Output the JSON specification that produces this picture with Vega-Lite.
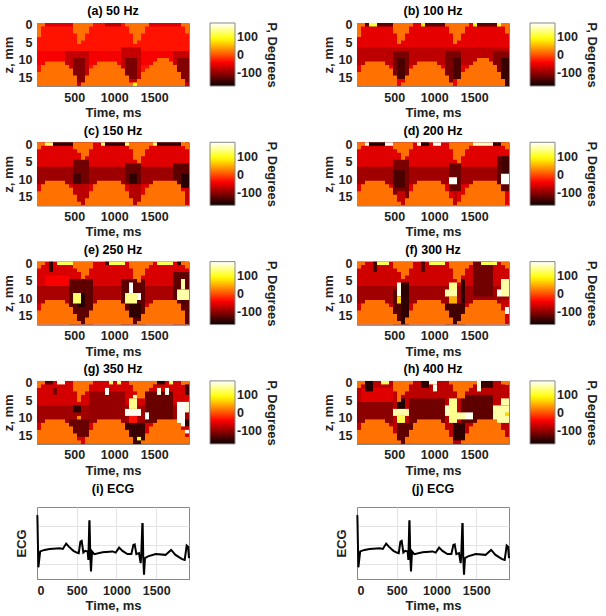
{"$schema":"https://vega.github.io/schema/vega-lite/v6.json","background":"white","padding":{"left":1,"top":4,"right":0,"bottom":0},
"datasets":{"ecg":[{"t":0,"v":1.55},{"t":5,"v":1.5},{"t":17,"v":-1.17},{"t":40,"v":-0.34},{"t":95,"v":-0.26},{"t":160,"v":-0.21},{"t":285,"v":-0.17},{"t":325,"v":-0.21},{"t":367,"v":0.07},{"t":400,"v":-0.09},{"t":458,"v":-0.31},{"t":500,"v":-0.4},{"t":525,"v":-0.43},{"t":546,"v":0.17},{"t":562,"v":0.21},{"t":583,"v":-0.4},{"t":608,"v":-0.31},{"t":637,"v":-0.34},{"t":646,"v":-0.78},{"t":658,"v":1.24},{"t":661,"v":1.24},{"t":670,"v":-0.52},{"t":679,"v":-1.38},{"t":692,"v":-0.34},{"t":720,"v":-0.48},{"t":825,"v":-0.38},{"t":950,"v":-0.34},{"t":990,"v":-0.4},{"t":1033,"v":-0.14},{"t":1075,"v":-0.31},{"t":1137,"v":-0.48},{"t":1187,"v":-0.48},{"t":1212,"v":0},{"t":1229,"v":0.03},{"t":1250,"v":-0.48},{"t":1283,"v":-0.43},{"t":1304,"v":-0.95},{"t":1312,"v":-0.48},{"t":1325,"v":1.09},{"t":1329,"v":1.09},{"t":1337,"v":-0.69},{"t":1346,"v":-1.55},{"t":1358,"v":-0.69},{"t":1396,"v":-0.6},{"t":1492,"v":-0.48},{"t":1617,"v":-0.52},{"t":1687,"v":-0.26},{"t":1742,"v":-0.52},{"t":1825,"v":-0.74},{"t":1858,"v":-0.78},{"t":1883,"v":-0.03},{"t":1900,"v":-0.09},{"t":1912,"v":-0.69}],
"cells":[
{"p":"a","t":35,"e":1940,"z":-0.5,"w":17.5,"v":-30},{"p":"a","t":85,"e":485,"z":-0.5,"w":0.5,"v":-55},{"p":"a","t":885,"e":1085,"z":-0.5,"w":0.5,"v":-72},{"p":"a","t":1435,"e":1835,"z":-0.5,"w":0.5,"v":-55},{"p":"a","t":35,"e":435,"z":7.5,"w":11.5,"v":-42},{"p":"a","t":685,"e":1135,"z":7.5,"w":11.5,"v":-45},{"p":"a","t":1335,"e":1785,"z":7.5,"w":11.5,"v":-42},{"p":"a","t":385,"e":685,"z":7.5,"w":17.5,"v":-70},{"p":"a","t":485,"e":635,"z":9.5,"w":16.5,"v":-105},{"p":"a","t":1085,"e":1335,"z":6.5,"w":17.5,"v":-70},{"p":"a","t":1135,"e":1285,"z":9.5,"w":15.5,"v":-110},{"p":"a","t":1735,"e":1940,"z":7.5,"w":17.5,"v":-70},{"p":"a","t":1785,"e":1940,"z":9.5,"w":16.5,"v":-105},{"p":"a","t":1235,"e":1285,"z":16.5,"w":17.5,"v":90},
{"p":"b","t":35,"e":1940,"z":-0.5,"w":17.5,"v":-52},{"p":"b","t":35,"e":1940,"z":6.5,"w":11.5,"v":-75},{"p":"b","t":135,"e":485,"z":-0.5,"w":0.5,"v":-125},{"p":"b","t":835,"e":1135,"z":-0.5,"w":0.5,"v":-125},{"p":"b","t":1485,"e":1785,"z":-0.5,"w":0.5,"v":-125},{"p":"b","t":185,"e":285,"z":-0.5,"w":0.5,"v":110},{"p":"b","t":835,"e":885,"z":-0.5,"w":0.5,"v":80},{"p":"b","t":1485,"e":1535,"z":-0.5,"w":0.5,"v":90},{"p":"b","t":1785,"e":1835,"z":-0.5,"w":0.5,"v":110},{"p":"b","t":485,"e":685,"z":7.5,"w":17.5,"v":-110},{"p":"b","t":535,"e":635,"z":9.5,"w":15.5,"v":-135},{"p":"b","t":535,"e":635,"z":15.5,"w":17.5,"v":-50},{"p":"b","t":1135,"e":1335,"z":7.5,"w":17.5,"v":-110},{"p":"b","t":1235,"e":1335,"z":9.5,"w":15.5,"v":-135},{"p":"b","t":1235,"e":1285,"z":15.5,"w":17.5,"v":-50},{"p":"b","t":1735,"e":1940,"z":7.5,"w":17.5,"v":-105},{"p":"b","t":1835,"e":1940,"z":9.5,"w":17.5,"v":-145},
{"p":"c","t":35,"e":1940,"z":-0.5,"w":17.5,"v":-55},{"p":"c","t":35,"e":1940,"z":6.5,"w":11.5,"v":-92},{"p":"c","t":235,"e":485,"z":-0.5,"w":0.5,"v":-150},{"p":"c","t":885,"e":1135,"z":-0.5,"w":0.5,"v":-150},{"p":"c","t":1535,"e":1835,"z":-0.5,"w":0.5,"v":-150},{"p":"c","t":135,"e":235,"z":-0.5,"w":0.5,"v":130},{"p":"c","t":835,"e":885,"z":-0.5,"w":0.5,"v":130},{"p":"c","t":1135,"e":1185,"z":-0.5,"w":0.5,"v":130},{"p":"c","t":1485,"e":1535,"z":-0.5,"w":0.5,"v":130},{"p":"c","t":1835,"e":1885,"z":-0.5,"w":0.5,"v":130},{"p":"c","t":485,"e":685,"z":4.5,"w":11.5,"v":-115},{"p":"c","t":485,"e":585,"z":8.5,"w":11.5,"v":-140},{"p":"c","t":485,"e":685,"z":11.5,"w":17.5,"v":-75},{"p":"c","t":1135,"e":1335,"z":5.5,"w":11.5,"v":-120},{"p":"c","t":1185,"e":1285,"z":8.5,"w":11.5,"v":-150},{"p":"c","t":1185,"e":1335,"z":11.5,"w":17.5,"v":-80},{"p":"c","t":1735,"e":1940,"z":5.5,"w":12.5,"v":-125},{"p":"c","t":1835,"e":1940,"z":8.5,"w":12.5,"v":-155},{"p":"c","t":1885,"e":1940,"z":12.5,"w":17.5,"v":-70},
{"p":"d","t":35,"e":1940,"z":-0.5,"w":17.5,"v":-55},{"p":"d","t":35,"e":1940,"z":6.5,"w":11.5,"v":-90},{"p":"d","t":135,"e":185,"z":-0.5,"w":0.5,"v":170},{"p":"d","t":185,"e":385,"z":-0.5,"w":0.5,"v":-160},{"p":"d","t":385,"e":485,"z":-0.5,"w":0.5,"v":175},{"p":"d","t":785,"e":835,"z":-0.5,"w":0.5,"v":170},{"p":"d","t":835,"e":935,"z":-0.5,"w":0.5,"v":-160},{"p":"d","t":985,"e":1085,"z":-0.5,"w":0.5,"v":175},{"p":"d","t":1485,"e":1735,"z":-0.5,"w":0.5,"v":160},{"p":"d","t":1735,"e":1835,"z":-0.5,"w":0.5,"v":-150},{"p":"d","t":485,"e":685,"z":4.5,"w":17.5,"v":-110},{"p":"d","t":485,"e":635,"z":7.5,"w":12.5,"v":-135},{"p":"d","t":535,"e":635,"z":13.5,"w":17.5,"v":-70},{"p":"d","t":1185,"e":1335,"z":5.5,"w":13.5,"v":-120},{"p":"d","t":1235,"e":1285,"z":13.5,"w":17.5,"v":-75},{"p":"d","t":1785,"e":1940,"z":3.5,"w":13.5,"v":-125},{"p":"d","t":1835,"e":1940,"z":3.5,"w":8.5,"v":-140},{"p":"d","t":1185,"e":1285,"z":9.5,"w":11.5,"v":178},{"p":"d","t":1835,"e":1935,"z":8.5,"w":11.5,"v":178},
{"p":"e","t":35,"e":1940,"z":-0.5,"w":17.5,"v":-60},{"p":"e","t":135,"e":435,"z":3.5,"w":6.5,"v":-42},{"p":"e","t":35,"e":1940,"z":6.5,"w":11.5,"v":-85},{"p":"e","t":435,"e":735,"z":4.5,"w":17.5,"v":-125},{"p":"e","t":535,"e":635,"z":8.5,"w":12.5,"v":-155},{"p":"e","t":1085,"e":1385,"z":4.5,"w":17.5,"v":-125},{"p":"e","t":1185,"e":1335,"z":11.5,"w":15.5,"v":-150},{"p":"e","t":1735,"e":1940,"z":2.5,"w":17.5,"v":-125},{"p":"e","t":185,"e":235,"z":-0.5,"w":2.5,"v":-150},{"p":"e","t":285,"e":485,"z":-0.5,"w":0.5,"v":120},{"p":"e","t":885,"e":935,"z":-0.5,"w":0.5,"v":-140},{"p":"e","t":935,"e":1135,"z":-0.5,"w":0.5,"v":120},{"p":"e","t":1535,"e":1735,"z":-0.5,"w":0.5,"v":120},{"p":"e","t":1785,"e":1885,"z":-0.5,"w":0.5,"v":-150},{"p":"e","t":485,"e":585,"z":8.5,"w":11.5,"v":130},{"p":"e","t":1185,"e":1235,"z":5.5,"w":8.5,"v":178},{"p":"e","t":1135,"e":1285,"z":8.5,"w":11.5,"v":140},{"p":"e","t":1285,"e":1335,"z":8.5,"w":10.5,"v":178},{"p":"e","t":1835,"e":1885,"z":4.5,"w":7.5,"v":150},{"p":"e","t":1785,"e":1940,"z":7.5,"w":10.5,"v":150},{"p":"e","t":1835,"e":1885,"z":10.5,"w":11.5,"v":-140},
{"p":"f","t":35,"e":1940,"z":-0.5,"w":17.5,"v":-65},{"p":"f","t":35,"e":1940,"z":6.5,"w":11.5,"v":-90},{"p":"f","t":485,"e":685,"z":7.5,"w":17.5,"v":-130},{"p":"f","t":585,"e":685,"z":5.5,"w":17.5,"v":-150},{"p":"f","t":535,"e":585,"z":5.5,"w":9.5,"v":170},{"p":"f","t":535,"e":585,"z":9.5,"w":11.5,"v":70},{"p":"f","t":1135,"e":1385,"z":11.5,"w":17.5,"v":-140},{"p":"f","t":1335,"e":1385,"z":4.5,"w":11.5,"v":-150},{"p":"f","t":1185,"e":1285,"z":5.5,"w":9.5,"v":140},{"p":"f","t":1135,"e":1285,"z":7.5,"w":9.5,"v":150},{"p":"f","t":1185,"e":1285,"z":9.5,"w":11.5,"v":50},{"p":"f","t":1485,"e":1735,"z":-0.5,"w":9.5,"v":-115},{"p":"f","t":1835,"e":1940,"z":4.5,"w":9.5,"v":150},{"p":"f","t":1785,"e":1835,"z":7.5,"w":9.5,"v":172},{"p":"f","t":1835,"e":1940,"z":10.5,"w":11.5,"v":-70},{"p":"f","t":1885,"e":1940,"z":12.5,"w":14.5,"v":178},{"p":"f","t":235,"e":285,"z":-0.5,"w":2.5,"v":-140},{"p":"f","t":285,"e":435,"z":-0.5,"w":0.5,"v":120},{"p":"f","t":835,"e":885,"z":-0.5,"w":2.5,"v":-130},{"p":"f","t":935,"e":1135,"z":-0.5,"w":0.5,"v":120},{"p":"f","t":1585,"e":1785,"z":-0.5,"w":0.5,"v":120},{"p":"f","t":1835,"e":1885,"z":-0.5,"w":0.5,"v":110},
{"p":"g","t":35,"e":1940,"z":-0.5,"w":17.5,"v":-62},{"p":"g","t":35,"e":1940,"z":6.5,"w":11.5,"v":-90},{"p":"g","t":685,"e":1135,"z":2.5,"w":11.5,"v":-95},{"p":"g","t":1385,"e":1735,"z":2.5,"w":11.5,"v":-120},{"p":"g","t":435,"e":685,"z":10.5,"w":17.5,"v":-120},{"p":"g","t":535,"e":635,"z":15.5,"w":17.5,"v":-60},{"p":"g","t":485,"e":585,"z":6.5,"w":8.5,"v":-150},{"p":"g","t":535,"e":585,"z":9.5,"w":10.5,"v":30},{"p":"g","t":135,"e":235,"z":-0.5,"w":0.5,"v":-130},{"p":"g","t":285,"e":385,"z":-0.5,"w":0.5,"v":175},{"p":"g","t":485,"e":535,"z":-0.5,"w":0.5,"v":130},{"p":"g","t":935,"e":985,"z":-0.5,"w":0.5,"v":120},{"p":"g","t":1035,"e":1085,"z":-0.5,"w":0.5,"v":120},{"p":"g","t":1185,"e":1235,"z":-0.5,"w":0.5,"v":120},{"p":"g","t":1485,"e":1635,"z":-0.5,"w":0.5,"v":-150},{"p":"g","t":1685,"e":1735,"z":-0.5,"w":0.5,"v":120},{"p":"g","t":1835,"e":1885,"z":-0.5,"w":0.5,"v":170},{"p":"g","t":1885,"e":1940,"z":-0.5,"w":3.5,"v":-140},{"p":"g","t":235,"e":285,"z":1.5,"w":3.5,"v":-110},{"p":"g","t":885,"e":935,"z":1.5,"w":3.5,"v":178},{"p":"g","t":1535,"e":1585,"z":1.5,"w":3.5,"v":170},{"p":"g","t":1635,"e":1685,"z":1.5,"w":3.5,"v":175},{"p":"g","t":1135,"e":1385,"z":11.5,"w":17.5,"v":-145},{"p":"g","t":1185,"e":1285,"z":9.5,"w":11.5,"v":-30},{"p":"g","t":1235,"e":1285,"z":3.5,"w":4.5,"v":150},{"p":"g","t":1185,"e":1285,"z":4.5,"w":7.5,"v":140},{"p":"g","t":1135,"e":1335,"z":7.5,"w":9.5,"v":176},{"p":"g","t":1285,"e":1335,"z":15.5,"w":16.5,"v":110},{"p":"g","t":1385,"e":1435,"z":8.5,"w":10.5,"v":178},{"p":"g","t":1785,"e":1885,"z":5.5,"w":12.5,"v":178},{"p":"g","t":1885,"e":1940,"z":5.5,"w":8.5,"v":165},{"p":"g","t":1885,"e":1940,"z":10.5,"w":12.5,"v":-150},{"p":"g","t":1885,"e":1940,"z":13.5,"w":14.5,"v":178},
{"p":"h","t":35,"e":1940,"z":-0.5,"w":17.5,"v":-75},{"p":"h","t":85,"e":485,"z":1.5,"w":5.5,"v":-55},{"p":"h","t":35,"e":485,"z":5.5,"w":11.5,"v":-100},{"p":"h","t":685,"e":1135,"z":4.5,"w":11.5,"v":-115},{"p":"h","t":535,"e":735,"z":11.5,"w":17.5,"v":-125},{"p":"h","t":1335,"e":1735,"z":3.5,"w":11.5,"v":-125},{"p":"h","t":1235,"e":1385,"z":11.5,"w":16.5,"v":-150},{"p":"h","t":135,"e":235,"z":-0.5,"w":2.5,"v":-155},{"p":"h","t":335,"e":435,"z":-0.5,"w":0.5,"v":120},{"p":"h","t":835,"e":935,"z":-0.5,"w":1.5,"v":-150},{"p":"h","t":935,"e":1035,"z":-0.5,"w":0.5,"v":172},{"p":"h","t":985,"e":1035,"z":0.5,"w":2.5,"v":172},{"p":"h","t":1535,"e":1585,"z":-0.5,"w":2.5,"v":170},{"p":"h","t":1585,"e":1735,"z":-0.5,"w":1.5,"v":-145},{"p":"h","t":1885,"e":1940,"z":-0.5,"w":0.5,"v":110},{"p":"h","t":535,"e":635,"z":4.5,"w":7.5,"v":-160},{"p":"h","t":485,"e":685,"z":7.5,"w":9.5,"v":150},{"p":"h","t":535,"e":635,"z":9.5,"w":11.5,"v":120},{"p":"h","t":1185,"e":1285,"z":4.5,"w":11.5,"v":140},{"p":"h","t":1135,"e":1185,"z":6.5,"w":9.5,"v":160},{"p":"h","t":1285,"e":1385,"z":8.5,"w":10.5,"v":150},{"p":"h","t":1385,"e":1485,"z":8.5,"w":10.5,"v":175},{"p":"h","t":1735,"e":1940,"z":6.5,"w":11.5,"v":150},{"p":"h","t":1835,"e":1940,"z":4.5,"w":6.5,"v":150},{"p":"h","t":1885,"e":1940,"z":8.5,"w":9.5,"v":70},
{"p":"m1","t":35,"e":85,"z":-0.5,"w":3.5,"v":19},{"p":"m1","t":85,"e":135,"z":-0.5,"w":0.5,"v":19},{"p":"m1","t":485,"e":535,"z":-0.5,"w":2.5,"v":19},{"p":"m1","t":535,"e":585,"z":-0.5,"w":5.5,"v":19},{"p":"m1","t":585,"e":635,"z":-0.5,"w":4.5,"v":19},{"p":"m1","t":635,"e":685,"z":-0.5,"w":2.5,"v":19},{"p":"m1","t":685,"e":735,"z":-0.5,"w":0.5,"v":19},{"p":"m1","t":1135,"e":1185,"z":-0.5,"w":0.5,"v":19},{"p":"m1","t":1185,"e":1235,"z":-0.5,"w":2.5,"v":19},{"p":"m1","t":1235,"e":1285,"z":-0.5,"w":5.5,"v":19},{"p":"m1","t":1285,"e":1335,"z":-0.5,"w":4.5,"v":19},{"p":"m1","t":1335,"e":1385,"z":-0.5,"w":2.5,"v":19},{"p":"m1","t":1385,"e":1435,"z":-0.5,"w":0.5,"v":19},{"p":"m1","t":1835,"e":1885,"z":-0.5,"w":0.5,"v":19},{"p":"m1","t":1885,"e":1940,"z":-0.5,"w":2.5,"v":19},
{"p":"m1","t":35,"e":85,"z":13.5,"w":17.5,"v":19},{"p":"m1","t":85,"e":135,"z":11.5,"w":17.5,"v":19},{"p":"m1","t":135,"e":385,"z":10.5,"w":17.5,"v":19},{"p":"m1","t":385,"e":435,"z":11.5,"w":17.5,"v":19},{"p":"m1","t":435,"e":485,"z":12.5,"w":17.5,"v":19},{"p":"m1","t":485,"e":535,"z":14.5,"w":17.5,"v":19},{"p":"m1","t":585,"e":635,"z":16.5,"w":17.5,"v":19},{"p":"m1","t":635,"e":685,"z":14.5,"w":17.5,"v":19},{"p":"m1","t":685,"e":735,"z":12.5,"w":17.5,"v":19},{"p":"m1","t":735,"e":785,"z":11.5,"w":17.5,"v":19},{"p":"m1","t":785,"e":1035,"z":10.5,"w":17.5,"v":19},{"p":"m1","t":1035,"e":1085,"z":11.5,"w":17.5,"v":19},{"p":"m1","t":1085,"e":1135,"z":12.5,"w":17.5,"v":19},{"p":"m1","t":1135,"e":1185,"z":14.5,"w":17.5,"v":19},{"p":"m1","t":1185,"e":1235,"z":16.5,"w":17.5,"v":19},{"p":"m1","t":1285,"e":1335,"z":15.5,"w":17.5,"v":19},{"p":"m1","t":1335,"e":1385,"z":13.5,"w":17.5,"v":19},{"p":"m1","t":1385,"e":1435,"z":12.5,"w":17.5,"v":19},{"p":"m1","t":1435,"e":1485,"z":11.5,"w":17.5,"v":19},{"p":"m1","t":1485,"e":1535,"z":10.5,"w":17.5,"v":19},{"p":"m1","t":1535,"e":1685,"z":9.5,"w":17.5,"v":19},{"p":"m1","t":1685,"e":1735,"z":10.5,"w":17.5,"v":19},{"p":"m1","t":1735,"e":1785,"z":11.5,"w":17.5,"v":19},{"p":"m1","t":1785,"e":1835,"z":13.5,"w":17.5,"v":19},{"p":"m1","t":1835,"e":1885,"z":15.5,"w":17.5,"v":19},
{"p":"m2","t":35,"e":85,"z":-0.5,"w":1.5,"v":19},{"p":"m2","t":85,"e":135,"z":-0.5,"w":0.5,"v":19},{"p":"m2","t":485,"e":535,"z":-0.5,"w":1.5,"v":19},{"p":"m2","t":535,"e":585,"z":-0.5,"w":2.5,"v":19},{"p":"m2","t":585,"e":635,"z":-0.5,"w":4.5,"v":19},{"p":"m2","t":635,"e":685,"z":-0.5,"w":3.5,"v":19},{"p":"m2","t":685,"e":735,"z":-0.5,"w":1.5,"v":19},{"p":"m2","t":1185,"e":1235,"z":-0.5,"w":1.5,"v":19},{"p":"m2","t":1235,"e":1285,"z":-0.5,"w":4.5,"v":19},{"p":"m2","t":1285,"e":1335,"z":-0.5,"w":5.5,"v":19},{"p":"m2","t":1335,"e":1385,"z":-0.5,"w":3.5,"v":19},{"p":"m2","t":1385,"e":1435,"z":-0.5,"w":1.5,"v":19},{"p":"m2","t":1435,"e":1485,"z":-0.5,"w":0.5,"v":19},{"p":"m2","t":1835,"e":1885,"z":-0.5,"w":0.5,"v":19},{"p":"m2","t":1885,"e":1940,"z":-0.5,"w":1.5,"v":19},
{"p":"m2","t":35,"e":85,"z":13.5,"w":17.5,"v":19},{"p":"m2","t":85,"e":135,"z":11.5,"w":17.5,"v":19},{"p":"m2","t":135,"e":385,"z":10.5,"w":17.5,"v":19},{"p":"m2","t":385,"e":435,"z":11.5,"w":17.5,"v":19},{"p":"m2","t":435,"e":485,"z":12.5,"w":17.5,"v":19},{"p":"m2","t":485,"e":535,"z":14.5,"w":17.5,"v":19},{"p":"m2","t":535,"e":585,"z":16.5,"w":17.5,"v":19},{"p":"m2","t":635,"e":685,"z":15.5,"w":17.5,"v":19},{"p":"m2","t":685,"e":735,"z":13.5,"w":17.5,"v":19},{"p":"m2","t":735,"e":785,"z":11.5,"w":17.5,"v":19},{"p":"m2","t":785,"e":1085,"z":10.5,"w":17.5,"v":19},{"p":"m2","t":1085,"e":1135,"z":11.5,"w":17.5,"v":19},{"p":"m2","t":1135,"e":1185,"z":13.5,"w":17.5,"v":19},{"p":"m2","t":1185,"e":1235,"z":15.5,"w":17.5,"v":19},{"p":"m2","t":1285,"e":1335,"z":16.5,"w":17.5,"v":19},{"p":"m2","t":1335,"e":1385,"z":14.5,"w":17.5,"v":19},{"p":"m2","t":1385,"e":1435,"z":12.5,"w":17.5,"v":19},{"p":"m2","t":1435,"e":1485,"z":11.5,"w":17.5,"v":19},{"p":"m2","t":1485,"e":1785,"z":10.5,"w":17.5,"v":19},{"p":"m2","t":1785,"e":1835,"z":11.5,"w":17.5,"v":19},{"p":"m2","t":1835,"e":1885,"z":13.5,"w":17.5,"v":19},
{"p":"m3","t":35,"e":85,"z":-0.5,"w":1.5,"v":19},{"p":"m3","t":85,"e":135,"z":-0.5,"w":0.5,"v":19},{"p":"m3","t":485,"e":535,"z":-0.5,"w":2.5,"v":19},{"p":"m3","t":535,"e":585,"z":-0.5,"w":5.5,"v":19},{"p":"m3","t":585,"e":635,"z":-0.5,"w":3.5,"v":19},{"p":"m3","t":635,"e":685,"z":-0.5,"w":2.5,"v":19},{"p":"m3","t":685,"e":735,"z":-0.5,"w":0.5,"v":19},{"p":"m3","t":1185,"e":1235,"z":-0.5,"w":0.5,"v":19},{"p":"m3","t":1235,"e":1285,"z":-0.5,"w":2.5,"v":19},{"p":"m3","t":1285,"e":1385,"z":-0.5,"w":4.5,"v":19},{"p":"m3","t":1385,"e":1435,"z":-0.5,"w":2.5,"v":19},{"p":"m3","t":1435,"e":1485,"z":-0.5,"w":1.5,"v":19},{"p":"m3","t":1485,"e":1535,"z":-0.5,"w":0.5,"v":19},{"p":"m3","t":1835,"e":1940,"z":-0.5,"w":0.5,"v":19},
{"p":"m3","t":35,"e":85,"z":13.5,"w":17.5,"v":19},{"p":"m3","t":85,"e":135,"z":11.5,"w":17.5,"v":19},{"p":"m3","t":135,"e":385,"z":10.5,"w":17.5,"v":19},{"p":"m3","t":385,"e":435,"z":11.5,"w":17.5,"v":19},{"p":"m3","t":435,"e":485,"z":12.5,"w":17.5,"v":19},{"p":"m3","t":485,"e":535,"z":14.5,"w":17.5,"v":19},{"p":"m3","t":535,"e":585,"z":16.5,"w":17.5,"v":19},{"p":"m3","t":635,"e":685,"z":15.5,"w":17.5,"v":19},{"p":"m3","t":685,"e":735,"z":13.5,"w":17.5,"v":19},{"p":"m3","t":735,"e":785,"z":11.5,"w":17.5,"v":19},{"p":"m3","t":785,"e":1085,"z":10.5,"w":17.5,"v":19},{"p":"m3","t":1085,"e":1135,"z":11.5,"w":17.5,"v":19},{"p":"m3","t":1135,"e":1185,"z":13.5,"w":17.5,"v":19},{"p":"m3","t":1185,"e":1235,"z":15.5,"w":17.5,"v":19},{"p":"m3","t":1335,"e":1385,"z":16.5,"w":17.5,"v":19},{"p":"m3","t":1385,"e":1435,"z":14.5,"w":17.5,"v":19},{"p":"m3","t":1435,"e":1485,"z":12.5,"w":17.5,"v":19},{"p":"m3","t":1485,"e":1535,"z":11.5,"w":17.5,"v":19},{"p":"m3","t":1535,"e":1785,"z":10.5,"w":17.5,"v":19},{"p":"m3","t":1785,"e":1835,"z":11.5,"w":17.5,"v":19},{"p":"m3","t":1835,"e":1885,"z":13.5,"w":17.5,"v":19},{"p":"m3","t":1885,"e":1940,"z":15.5,"w":17.5,"v":19}
]},
"config":{"font":"Liberation Sans","view":{"stroke":"#888","continuousWidth":152,"continuousHeight":63},"title":{"fontSize":12.5,"fontWeight":"bold","offset":1},"axis":{"grid":false,"labelFontSize":12.5,"labelFontWeight":"bold","labelColor":"#222","titleFontSize":13,"titleFontWeight":"bold","titleColor":"#222","domainColor":"#888","tickSize":0,"labelPadding":5,"titlePadding":3,"format":"d"},"legend":{"gradientLength":63,"gradientThickness":25,"gradientStrokeColor":"#888","gradientStrokeWidth":1,"offset":21,"labelOffset":6,"titlePadding":3,"titleOrient":"right","titleAngle":270,"titleFontSize":13,"titleFontWeight":"bold","titleColor":"#222","labelFontSize":12.5,"labelFontWeight":"bold","labelColor":"#222","titleAnchor":"middle","titleAlign":"center","labelOverlap":false}},
"spacing":4,
"vconcat":[{"columns":2,"spacing":{"row":56.3,"column":168},"bounds":"flush","resolve":{"scale":{"color":"independent"},"legend":{"color":"independent"}},"data":{"name":"cells"},"concat":[
{"title":"(a) 50 Hz","transform":[{"filter":{"field":"p","oneOf":["a","m1"]}}],"mark":{"type":"rect","clip":true},"encoding":{"x":{"field":"t","type":"quantitative","scale":{"domain":[35,1935],"nice":false},"axis":{"values":[500,1000,1500],"title":"Time, ms"}},"x2":{"field":"e"},"y":{"field":"z","type":"quantitative","scale":{"domain":[-0.5,17.5],"reverse":true,"nice":false},"axis":{"values":[0,5,10,15],"title":"z, mm"}},"y2":{"field":"w"},"color":{"field":"v","type":"quantitative","scale":{"domain":[-170,-39,92,180],"range":["#0a0000","#ff0000","#ffff00","#ffffff"],"interpolate":"rgb"},"legend":{"title":"P, Degrees","values":[-100,0,100],"labelExpr":"''+datum.value"}}}},
{"title":"(b) 100 Hz","transform":[{"filter":{"field":"p","oneOf":["b","m1"]}}],"mark":{"type":"rect","clip":true},"encoding":{"x":{"field":"t","type":"quantitative","scale":{"domain":[35,1935],"nice":false},"axis":{"values":[500,1000,1500],"title":"Time, ms"}},"x2":{"field":"e"},"y":{"field":"z","type":"quantitative","scale":{"domain":[-0.5,17.5],"reverse":true,"nice":false},"axis":{"values":[0,5,10,15],"title":"z, mm"}},"y2":{"field":"w"},"color":{"field":"v","type":"quantitative","scale":{"domain":[-170,-39,92,180],"range":["#0a0000","#ff0000","#ffff00","#ffffff"],"interpolate":"rgb"},"legend":{"title":"P, Degrees","values":[-100,0,100],"labelExpr":"''+datum.value"}}}},
{"title":"(c) 150 Hz","transform":[{"filter":{"field":"p","oneOf":["c","m2"]}}],"mark":{"type":"rect","clip":true},"encoding":{"x":{"field":"t","type":"quantitative","scale":{"domain":[35,1935],"nice":false},"axis":{"values":[500,1000,1500],"title":"Time, ms"}},"x2":{"field":"e"},"y":{"field":"z","type":"quantitative","scale":{"domain":[-0.5,17.5],"reverse":true,"nice":false},"axis":{"values":[0,5,10,15],"title":"z, mm"}},"y2":{"field":"w"},"color":{"field":"v","type":"quantitative","scale":{"domain":[-170,-39,92,180],"range":["#0a0000","#ff0000","#ffff00","#ffffff"],"interpolate":"rgb"},"legend":{"title":"P, Degrees","values":[-100,0,100],"labelExpr":"''+datum.value"}}}},
{"title":"(d) 200 Hz","transform":[{"filter":{"field":"p","oneOf":["d","m2"]}}],"mark":{"type":"rect","clip":true},"encoding":{"x":{"field":"t","type":"quantitative","scale":{"domain":[35,1935],"nice":false},"axis":{"values":[500,1000,1500],"title":"Time, ms"}},"x2":{"field":"e"},"y":{"field":"z","type":"quantitative","scale":{"domain":[-0.5,17.5],"reverse":true,"nice":false},"axis":{"values":[0,5,10,15],"title":"z, mm"}},"y2":{"field":"w"},"color":{"field":"v","type":"quantitative","scale":{"domain":[-170,-39,92,180],"range":["#0a0000","#ff0000","#ffff00","#ffffff"],"interpolate":"rgb"},"legend":{"title":"P, Degrees","values":[-100,0,100],"labelExpr":"''+datum.value"}}}},
{"title":"(e) 250 Hz","transform":[{"filter":{"field":"p","oneOf":["e","m2"]}}],"mark":{"type":"rect","clip":true},"encoding":{"x":{"field":"t","type":"quantitative","scale":{"domain":[35,1935],"nice":false},"axis":{"values":[500,1000,1500],"title":"Time, ms"}},"x2":{"field":"e"},"y":{"field":"z","type":"quantitative","scale":{"domain":[-0.5,17.5],"reverse":true,"nice":false},"axis":{"values":[0,5,10,15],"title":"z, mm"}},"y2":{"field":"w"},"color":{"field":"v","type":"quantitative","scale":{"domain":[-170,-39,92,180],"range":["#0a0000","#ff0000","#ffff00","#ffffff"],"interpolate":"rgb"},"legend":{"title":"P, Degrees","values":[-100,0,100],"labelExpr":"''+datum.value"}}}},
{"title":"(f) 300 Hz","transform":[{"filter":{"field":"p","oneOf":["f","m2"]}}],"mark":{"type":"rect","clip":true},"encoding":{"x":{"field":"t","type":"quantitative","scale":{"domain":[35,1935],"nice":false},"axis":{"values":[500,1000,1500],"title":"Time, ms"}},"x2":{"field":"e"},"y":{"field":"z","type":"quantitative","scale":{"domain":[-0.5,17.5],"reverse":true,"nice":false},"axis":{"values":[0,5,10,15],"title":"z, mm"}},"y2":{"field":"w"},"color":{"field":"v","type":"quantitative","scale":{"domain":[-170,-39,92,180],"range":["#0a0000","#ff0000","#ffff00","#ffffff"],"interpolate":"rgb"},"legend":{"title":"P, Degrees","values":[-100,0,100],"labelExpr":"''+datum.value"}}}},
{"title":"(g) 350 Hz","transform":[{"filter":{"field":"p","oneOf":["g","m3"]}}],"mark":{"type":"rect","clip":true},"encoding":{"x":{"field":"t","type":"quantitative","scale":{"domain":[35,1935],"nice":false},"axis":{"values":[500,1000,1500],"title":"Time, ms"}},"x2":{"field":"e"},"y":{"field":"z","type":"quantitative","scale":{"domain":[-0.5,17.5],"reverse":true,"nice":false},"axis":{"values":[0,5,10,15],"title":"z, mm"}},"y2":{"field":"w"},"color":{"field":"v","type":"quantitative","scale":{"domain":[-170,-39,92,180],"range":["#0a0000","#ff0000","#ffff00","#ffffff"],"interpolate":"rgb"},"legend":{"title":"P, Degrees","values":[-100,0,100],"labelExpr":"''+datum.value"}}}},
{"title":"(h) 400 Hz","transform":[{"filter":{"field":"p","oneOf":["h","m3"]}}],"mark":{"type":"rect","clip":true},"encoding":{"x":{"field":"t","type":"quantitative","scale":{"domain":[35,1935],"nice":false},"axis":{"values":[500,1000,1500],"title":"Time, ms"}},"x2":{"field":"e"},"y":{"field":"z","type":"quantitative","scale":{"domain":[-0.5,17.5],"reverse":true,"nice":false},"axis":{"values":[0,5,10,15],"title":"z, mm"}},"y2":{"field":"w"},"color":{"field":"v","type":"quantitative","scale":{"domain":[-170,-39,92,180],"range":["#0a0000","#ff0000","#ffff00","#ffffff"],"interpolate":"rgb"},"legend":{"title":"P, Degrees","values":[-100,0,100],"labelExpr":"''+datum.value"}}}}
]},
{"hconcat":[
{"title":{"text":"(i) ECG","offset":12},"width":152,"height":72,"data":{"name":"ecg"},"mark":{"type":"line","color":"black","strokeWidth":2},"encoding":{"x":{"field":"t","type":"quantitative","scale":{"domain":[0,1912],"nice":false},"axis":{"values":[0,500,1000,1500],"title":"Time, ms","grid":true,"gridColor":"#e4e4e4"}},"y":{"field":"v","type":"quantitative","scale":{"domain":[-1.78,1.98],"nice":false},"axis":{"values":[-1,0,1],"labels":false,"title":"ECG","grid":true,"gridColor":"#e4e4e4","titlePadding":8}}}},
{"title":{"text":"(j) ECG","offset":12},"width":152,"height":72,"data":{"name":"ecg"},"mark":{"type":"line","color":"black","strokeWidth":2},"encoding":{"x":{"field":"t","type":"quantitative","scale":{"domain":[0,1912],"nice":false},"axis":{"values":[0,500,1000,1500],"title":"Time, ms","grid":true,"gridColor":"#e4e4e4"}},"y":{"field":"v","type":"quantitative","scale":{"domain":[-1.78,1.98],"nice":false},"axis":{"values":[-1,0,1],"labels":false,"title":"ECG","grid":true,"gridColor":"#e4e4e4","titlePadding":8}}}}
],"spacing":168,"bounds":"flush"}]}
